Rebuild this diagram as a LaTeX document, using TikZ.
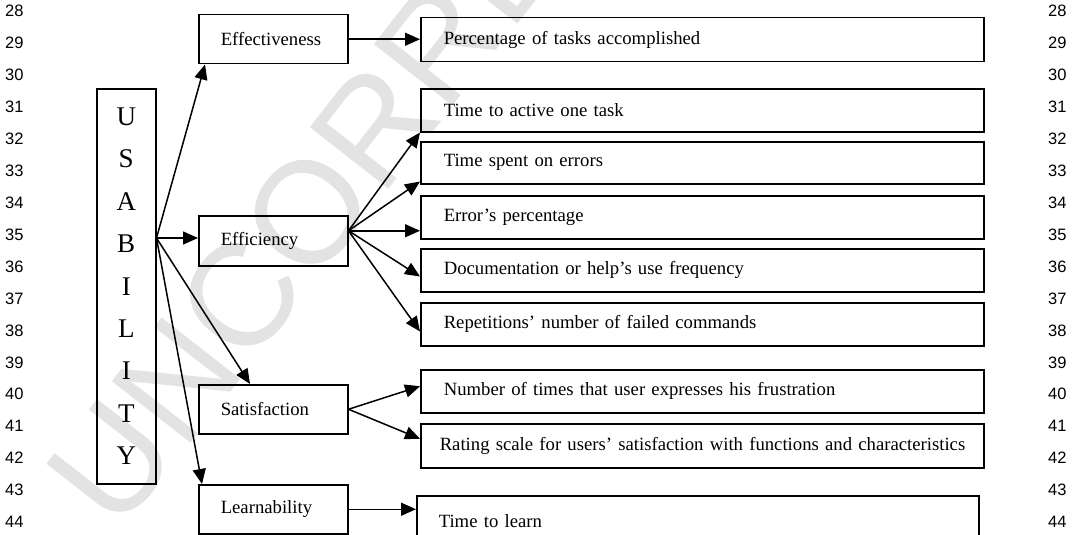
\documentclass[tikz,border=0pt]{standalone}
\usepackage{fontspec}
\setmainfont{Liberation Serif}
\newfontfamily\numfont{Liberation Sans}
\usetikzlibrary{arrows.meta,calc}

\begin{document}
\begin{tikzpicture}[x=1pt,y=-1pt,
  frame/.style={draw, line width=1.5pt, anchor=north west, inner ysep=0pt,
                align=left, font=\fontsize{18.7}{22}\selectfont},
  lbox/.style={frame, inner xsep=22pt, text width=105pt, minimum height=49pt},
  rbox/.style={frame, inner xsep=23pt, text width=517pt, minimum height=43pt},
  link/.style={line width=1.5pt, -{Triangle[length=15pt,width=13pt]}},
  lineno/.style={font=\numfont\fontsize{16.5}{18}\selectfont, anchor=west, inner sep=0pt},
  stamp/.style={font=\numfont\fontsize{145}{145}\selectfont, text=black!11,
                rotate=52, inner sep=0pt},
]
\useasboundingbox (0,0) rectangle (1079,535);

% watermark behind everything
\begin{scope}
  \clip (0,0) rectangle (1079,535);
  \node[stamp] (wm) at (305,215) {UNCORRE};
\end{scope}

% line numbers in both margins
\foreach \n in {28,...,44} {
  \node[lineno] (l\n) at (5, {11+31.94*(\n-28)}) {\n};
  \node[lineno] (r\n) at (1048, {11+31.94*(\n-28)}) {\n};
}

% root
\node[draw, line width=1.5pt, anchor=north west, inner sep=0pt, align=center,
      minimum width=59pt, minimum height=395pt,
      font=\fontsize{27}{42.4}\selectfont] (usab) at (96,88)
      {U\\S\\A\\B\\I\\L\\I\\T\\Y};

% attributes
\node[lbox] (eff)   at (198,14)  {Effectiveness};
\node[lbox, minimum height=50pt] (effi) at (198,215) {Efficiency};
\node[lbox] (sat)   at (198,384) {Satisfaction};
\node[lbox] (learn) at (198,484) {Learnability};

% measures
\node[rbox, minimum height=44pt] (pct) at (420,17) {Percentage of tasks accomplished};
\node[rbox] (tact)  at (420,88)  {Time to active one task};
\node[rbox, minimum height=42pt] (terr) at (420,141) {Time spent on errors};
\node[rbox] (eperc) at (420,195) {Error’s percentage};
\node[rbox] (doc)   at (420,248) {Documentation or help’s use frequency};
\node[rbox] (rep)   at (420,302) {Repetitions’ number of failed commands};
\node[rbox] (num)   at (420,369) {Number of times that user expresses his frustration};
\node[rbox, inner xsep=19pt, text width=525pt, minimum height=44pt] (rate) at (420,423)
      {\mbox{Rating scale for users’ satisfaction with functions and characteristics}};
\node[rbox, inner xsep=22pt, text width=518pt, minimum height=50pt] (tlearn) at (416,495)
      {Time to learn};

% fan-out points
\coordinate (uo) at ($(usab.north east)+(0,150)$);
\coordinate (eo) at ($(effi.east)+(0,-10)$);

% usability to attributes
\draw[link] (uo) -- ($(eff.south west)+(7,0)$);
\draw[link] (uo) -- (effi.west |- uo);
\draw[link] (uo) -- ($(sat.north west)+(52,0)$);
\draw[link] (uo) -- ($(learn.north west)+(4,0)$);

% attributes to measures
\draw[link] (eff.east) -- (pct.west |- eff.east);
\draw[link] (eo) -- (tact.south west);
\draw[link] (eo) -- ($(terr.south west)+(0,-3)$);
\draw[link] (eo) -- (eperc.west |- eo);
\draw[link] (eo) -- ($(doc.south west)+(0,-16)$);
\draw[link] (eo) -- ($(rep.south west)+(0,-15)$);
\draw[link] (sat.east) -- ($(num.west)+(0,-5)$);
\draw[link] (sat.east) -- ($(rate.west)+(0,-7)$);
\draw[link] (learn.east) -- (tlearn.west |- learn.east);
\end{tikzpicture}
\end{document}
